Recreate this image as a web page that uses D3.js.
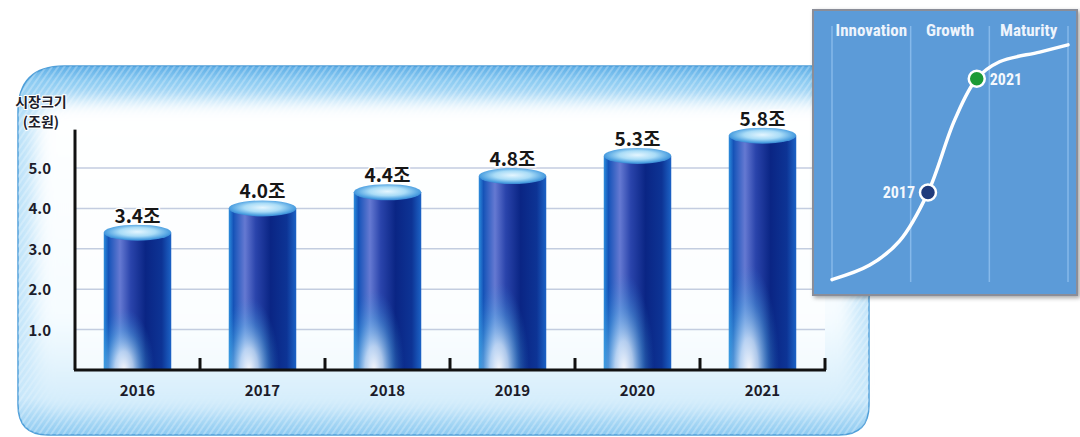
<!DOCTYPE html>
<html>
<head>
<meta charset="utf-8">
<script src="https://cdn.jsdelivr.net/npm/d3@7"></script>
<style>
    body { margin: 0; background: #fff; }
    svg { display: block; }
</style>
</head>
<body>
<div class="container"></div>
<script>
// market size (조원) by year
let years = ["2016", "2017", "2018", "2019", "2020", "2021"];
let values = [3.4, 4.0, 4.4, 4.8, 5.3, 5.8];
let valueLabels = ["3.4조", "4.0조", "4.4조", "4.8조", "5.3조", "5.8조"];
let yTicks = [1, 2, 3, 4, 5];
let yTitle = ["시장크기", "(조원)"];

// life cycle inset (x in stage units, y in % of maturity)
let stages = ["Innovation", "Growth", "Maturity"];
let curveX = [0, 0.48, 0.86, 1.22, 1.56, 1.84, 2.13, 2.64, 3.0];
let curveY = [1, 7, 17, 37, 67, 84, 91, 95, 98];
let markYears = ["2017", "2021"];
let markX = [1.22, 1.84];
let markY = [37, 84];

let W = 1080, H = 437;

let svg = d3.select(".container")
    .append("svg")
    .attr("width", W)
    .attr("height", H);

let defs = svg.append("defs");

// ---- gradients
const stops = (g, list) => {
    list.forEach(s => {
        g.append("stop")
            .attr("offset", s[0])
            .attr("stop-color", s[1])
            .attr("stop-opacity", s[2] === undefined ? 1 : s[2]);
    });
};

let barGrad = defs.append("linearGradient").attr("id", "barGrad")
    .attr("x1", 0).attr("x2", 1).attr("y1", 0).attr("y2", 0);
stops(barGrad, [["0%", "#2c8ddc"], ["7%", "#1553b8"], ["24%", "#6579d2"], ["40%", "#2a44ab"],
    ["62%", "#0a2584"], ["86%", "#0d3495"], ["100%", "#1c63c6"]]);

let glow = defs.append("radialGradient").attr("id", "barGlow")
    .attr("cx", 0.3).attr("cy", 1).attr("r", 0.45);
stops(glow, [["0%", "#ffffff", 0.95], ["30%", "#d8f2ff", 0.75], ["65%", "#5cc0f0", 0.35], ["100%", "#2a86d8", 0]]);

let capGrad = defs.append("radialGradient").attr("id", "capGrad")
    .attr("cx", 0.5).attr("cy", 0.45).attr("r", 0.6);
stops(capGrad, [["0%", "#e4f6ff"], ["45%", "#a9dcf7"], ["80%", "#4a9ee0"], ["100%", "#2a6fc4"]]);

let panelGrad = defs.append("linearGradient").attr("id", "panelGrad")
    .attr("x1", 0).attr("x2", 0).attr("y1", 0).attr("y2", 1);
stops(panelGrad, [["0%", "#5eaee6"], ["4%", "#8ccbf2"], ["14%", "#b8e0f8"], ["90%", "#c8e7fa"], ["100%", "#8fcbf1"]]);

let innerGrad = defs.append("linearGradient").attr("id", "innerGrad")
    .attr("x1", 0).attr("x2", 0).attr("y1", 0).attr("y2", 1);
stops(innerGrad, [["0%", "#ffffff"], ["70%", "#f6fcff"], ["100%", "#d2ecfb"]]);

let hatch = defs.append("pattern").attr("id", "hatch")
    .attr("width", 5).attr("height", 5)
    .attr("patternUnits", "userSpaceOnUse")
    .attr("patternTransform", "rotate(35)");
hatch.append("rect").attr("width", 2).attr("height", 5).attr("fill", "#ffffff").attr("opacity", 0.25);

defs.append("filter").attr("id", "soft")
    .attr("x", -0.1).attr("y", -0.1).attr("width", 1.2).attr("height", 1.2)
    .append("feGaussianBlur").attr("stdDeviation", 9);

let shadow = defs.append("filter").attr("id", "shadow")
    .attr("x", -0.1).attr("y", -0.1).attr("width", 1.2).attr("height", 1.2);
shadow.append("feDropShadow").attr("dx", 2).attr("dy", 2).attr("stdDeviation", 2)
    .attr("flood-color", "#000").attr("flood-opacity", 0.35);

// ---- scales
let x = d3.scaleBand()
    .domain(years)
    .range([75, 825])
    .paddingInner(0.46)
    .paddingOuter(0.23);

let y = d3.scaleLinear()
    .domain([0, 5])
    .range([370, 168]);

let yMax = 5.95;

// ---- background panel
let panel = svg.append("g");
let px0 = 18, px1 = 869, py0 = 66, py1 = 435, r = 46;
let panelPath = `M${px0},${py1 - 30} L${px0},${py0 + r} Q${px0},${py0} ${px0 + r},${py0} L${px1 - 20},${py0} ` +
    `Q${px1},${py0} ${px1},${py0 + 20} L${px1},${py1 - 30} Q${px1},${py1} ${px1 - 30},${py1} ` +
    `L${px0 + 30},${py1} Q${px0},${py1} ${px0},${py1 - 30} Z`;
panel.append("path").attr("d", panelPath).attr("fill", "url(#panelGrad)")
    .attr("stroke", "#4f9fd9").attr("stroke-width", 1.5);
panel.append("path").attr("d", panelPath).attr("fill", "url(#hatch)");
panel.append("rect")
    .attr("x", 34).attr("y", 100).attr("width", 819).attr("height", 310)
    .attr("rx", 26)
    .attr("fill", "url(#innerGrad)")
    .attr("filter", "url(#soft)");
panel.append("rect")
    .attr("x", 75).attr("y", y(yMax)).attr("width", 750).attr("height", y(0) - y(yMax))
    .attr("fill", "#ffffff").attr("opacity", 0.6);

// ---- grid
svg.append("g")
    .selectAll("line")
    .data(yTicks)
    .enter()
    .append("line")
    .attr("x1", 75).attr("x2", 825)
    .attr("y1", d => y(d)).attr("y2", d => y(d))
    .attr("stroke", "#c3cde0")
    .attr("stroke-width", 1.5);

// ---- bars
let bars = svg.append("g")
    .selectAll("g")
    .data(years)
    .enter()
    .append("g");

bars.append("rect")
    .attr("x", d => x(d))
    .attr("y", (d, i) => y(values[i]))
    .attr("width", x.bandwidth())
    .attr("height", (d, i) => y(0) - y(values[i]))
    .attr("fill", "url(#barGrad)");

bars.append("rect")
    .attr("x", d => x(d))
    .attr("y", (d, i) => y(values[i]))
    .attr("width", x.bandwidth())
    .attr("height", (d, i) => y(0) - y(values[i]))
    .attr("fill", "url(#barGlow)");

bars.append("ellipse")
    .attr("cx", d => x(d) + x.bandwidth() / 2)
    .attr("cy", (d, i) => y(values[i]))
    .attr("rx", x.bandwidth() / 2)
    .attr("ry", 8)
    .attr("fill", "url(#capGrad)");

bars.append("text")
    .attr("x", d => x(d) + x.bandwidth() / 2)
    .attr("y", (d, i) => y(values[i]) - 10)
    .attr("text-anchor", "middle")
    .style("font-family", "'Noto Sans CJK KR', 'DejaVu Sans', sans-serif")
    .style("font-weight", "bold")
    .style("font-size", "19px")
    .style("fill", "#161616")
    .style("stroke", "#ffffff")
    .style("stroke-width", 3)
    .style("paint-order", "stroke")
    .text((d, i) => valueLabels[i]);

// ---- axes
let axes = svg.append("g").attr("stroke", "#111").attr("stroke-width", 3).attr("fill", "none");
axes.append("line").attr("x1", 75).attr("x2", 75).attr("y1", y(yMax)).attr("y2", y(0));
axes.append("line").attr("x1", 74).attr("x2", 826).attr("y1", y(0)).attr("y2", y(0));

let step = x.step();
let tickXs = years.slice(1).map(d => x(d) - step * x.paddingInner() / 2);
tickXs.push(x.range()[1]);
axes.selectAll(".tick")
    .data(tickXs)
    .enter()
    .append("line")
    .attr("x1", d => d).attr("x2", d => d)
    .attr("y1", y(0) - 12).attr("y2", y(0));

svg.append("g")
    .selectAll("text")
    .data(years)
    .enter()
    .append("text")
    .attr("x", d => x(d) + x.bandwidth() / 2)
    .attr("y", 396)
    .attr("text-anchor", "middle")
    .style("font-family", "'Noto Sans CJK KR', sans-serif")
    .style("font-weight", "bold")
    .style("font-size", "15px")
    .style("fill", "#1c1c2a")
    .text(d => d);

svg.append("g")
    .selectAll("text")
    .data(yTicks)
    .enter()
    .append("text")
    .attr("x", 51)
    .attr("y", d => y(d) + 6)
    .attr("text-anchor", "end")
    .style("font-family", "'Noto Sans CJK KR', sans-serif")
    .style("font-weight", "bold")
    .style("font-size", "15px")
    .style("fill", "#1c1c2a")
    .text(d => d.toFixed(1));

svg.append("g")
    .selectAll("text")
    .data(yTitle)
    .enter()
    .append("text")
    .attr("x", 41)
    .attr("y", (d, i) => 107 + i * 20)
    .attr("text-anchor", "middle")
    .style("font-family", "'Noto Sans CJK KR', sans-serif")
    .style("font-weight", "bold")
    .style("font-size", "14px")
    .style("fill", "#1c1c2a")
    .style("stroke", "#ffffff")
    .style("stroke-width", 2)
    .style("paint-order", "stroke")
    .text(d => d);

// ---- inset: product life cycle
let inset = svg.append("g");
inset.append("rect")
    .attr("x", 813).attr("y", 10).attr("width", 264).attr("height", 285)
    .attr("fill", "#5b9bd8")
    .attr("stroke", "#8a8d98").attr("stroke-width", 2)
    .attr("filter", "url(#shadow)");

let sx = d3.scaleLinear().domain([0, 3]).range([832, 1068]);
let sy = d3.scaleLinear().domain([0, 100]).range([282, 40]);

inset.append("g")
    .selectAll("line")
    .data(d3.range(stages.length + 1))
    .enter()
    .append("line")
    .attr("x1", d => sx(d)).attr("x2", d => sx(d))
    .attr("y1", 26).attr("y2", 282)
    .attr("stroke", "#86b9ea")
    .attr("stroke-width", 1.5);

inset.append("g")
    .selectAll("text")
    .data(stages)
    .enter()
    .append("text")
    .attr("x", (d, i) => sx(i + 0.5))
    .attr("y", 36)
    .attr("text-anchor", "middle")
    .style("font-family", "'Liberation Sans Narrow', 'Roboto', sans-serif")
    .style("font-stretch", "condensed")
    .style("font-weight", "bold")
    .style("font-size", "17px")
    .style("fill", "#eef4fc")
    .text(d => d);

let line = d3.line()
    .x((d, i) => sx(curveX[i]))
    .y((d, i) => sy(curveY[i]))
    .curve(d3.curveCatmullRom);

inset.append("path")
    .datum(curveX)
    .attr("d", line)
    .attr("fill", "none")
    .attr("stroke", "#ffffff")
    .attr("stroke-width", 3.5)
    .attr("stroke-linecap", "round");

let markColors = ["#1f3b7c", "#1c9a36"];
inset.append("g")
    .selectAll("circle")
    .data(markYears)
    .enter()
    .append("circle")
    .attr("cx", (d, i) => sx(markX[i]))
    .attr("cy", (d, i) => sy(markY[i]))
    .attr("r", 8)
    .attr("fill", (d, i) => markColors[i])
    .attr("stroke", "#ffffff")
    .attr("stroke-width", 2.5);

inset.append("g")
    .selectAll("text")
    .data(markYears)
    .enter()
    .append("text")
    .attr("x", (d, i) => sx(markX[i]) + (i === 0 ? -13 : 13))
    .attr("y", (d, i) => sy(markY[i]) + 6)
    .attr("text-anchor", (d, i) => i === 0 ? "end" : "start")
    .style("font-family", "'Liberation Sans Narrow', 'Roboto', sans-serif")
    .style("font-stretch", "condensed")
    .style("font-weight", "bold")
    .style("font-size", "16px")
    .style("fill", "#f4f8fd")
    .text(d => d);
</script>
</body>
</html>
